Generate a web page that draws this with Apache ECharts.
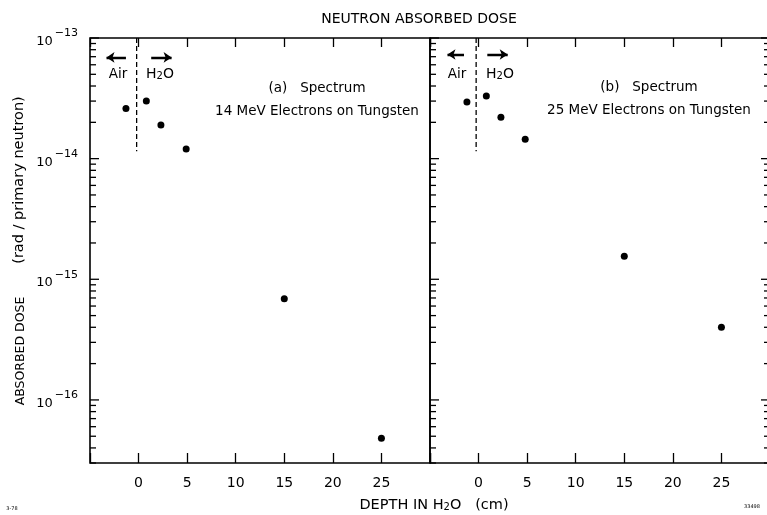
<!DOCTYPE html>
<html><head><meta charset="utf-8">
<script src="https://cdn.jsdelivr.net/npm/echarts@6/dist/echarts.min.js"></script>
<style>html,body{margin:0;padding:0;background:#fff}#c{width:767px;height:515px}</style>
</head><body><div id="c"></div>
<script>
// ---- data ----
const depthA = [-1.3, 0.8, 2.3, 4.9, 15, 25];
const doseA  = [2.6e-14, 3.0e-14, 1.9e-14, 1.2e-14, 6.9e-16, 4.8e-17];
const depthB = [-1.2, 0.8, 2.3, 4.8, 15, 25];
const doseB  = [2.95e-14, 3.3e-14, 2.2e-14, 1.45e-14, 1.55e-15, 4.0e-16];
const xTickLabels = ['0', '5', '10', '15', '20', '25'];
const xRange = [-5, 30];
const yRange = [3e-17, 1e-13];
const yMajorExponents = [-16, -15, -14, -13];
const minorMantissas = [2, 3, 4, 5, 6, 7, 8, 9];
const minorDecades = [-17, -16, -15, -14];
const boundaryDepthA = -0.2, boundaryDepthB = -0.25;
const boundaryDose = [1e-13, 1.15e-14];
const arrowDoseA = 6.9e-14, arrowDoseB = 7.3e-14;
const arrowsA = [[-1.3, -3.3], [1.3, 3.4]];
const arrowsB = [[-1.5, -3.2], [0.9, 3.0]];

const F = '"DejaVu Sans", sans-serif';

// tick list for the log axes (value, major flag)
const yTicks = [];
yMajorExponents.forEach(e => yTicks.push([Math.pow(10, e), 1]));
minorDecades.forEach(d => minorMantissas.forEach(m => {
  const v = m * Math.pow(10, d);
  if (v >= yRange[0] && v <= yRange[1]) yTicks.push([v, 0]);
}));

function tickSeries(xi, yi, side) {
  return {
    type: 'custom', xAxisIndex: xi, yAxisIndex: yi, silent: true, clip: false,
    data: yTicks.map(t => [side === 'left' ? xRange[0] : xRange[1], t[0], t[1]]),
    encode: { x: 0, y: 1 },
    renderItem: function (params, api) {
      const p = api.coord([api.value(0), api.value(1)]);
      const len = api.value(2) ? 9 : 6;
      const x2 = side === 'left' ? p[0] + len : p[0] - len;
      return { type: 'line', shape: { x1: p[0], y1: p[1], x2: x2, y2: p[1] },
               style: { stroke: '#000', lineWidth: 1.3 } };
    }
  };
}

function xAxisBottom(gi) {
  return {
    type: 'value', gridIndex: gi, min: xRange[0], max: xRange[1], interval: 5,
    position: 'bottom',
    axisLine: { show: false }, splitLine: { show: false },
    axisTick: { show: true, inside: true, length: 10, lineStyle: { color: '#000', width: 1.3 } },
    axisLabel: {
      show: true, margin: 13, color: '#000', fontFamily: F, fontSize: 14,
      formatter: v => xTickLabels.indexOf(String(v)) >= 0 ? String(v) : ''
    }
  };
}
function xAxisTop(gi) {
  return {
    type: 'value', gridIndex: gi, min: xRange[0], max: xRange[1], interval: 5,
    position: 'top',
    axisLine: { show: false }, splitLine: { show: false },
    axisTick: { show: true, inside: true, length: 9, lineStyle: { color: '#000', width: 1.3 } },
    axisLabel: { show: false }
  };
}
function yAxis(gi, labels) {
  return {
    type: 'log', logBase: 10, gridIndex: gi, min: yRange[0], max: yRange[1],
    axisLine: { show: false }, axisTick: { show: false }, splitLine: { show: false },
    minorTick: { show: false },
    axisLabel: {
      show: labels, margin: 12, color: '#000', fontFamily: F,
      formatter: function (v) {
        const e = Math.log10(v);
        if (Math.abs(e - Math.round(e)) > 1e-6) return '';
        return '{b|10}{s|\u2212' + Math.abs(Math.round(e)) + '}';
      },
      rich: {
        b: { fontSize: 13, fontFamily: F, color: '#000', verticalAlign: 'bottom', lineHeight: 20 },
        s: { fontSize: 11, fontFamily: F, color: '#000', verticalAlign: 'top', lineHeight: 12, padding: [0, 0, 0, 2] }
      }
    }
  };
}

const chart = echarts.init(document.getElementById('c'), null, { renderer: 'canvas' });
const txt = (x, y, text, size, extra) => ({
  type: 'text', x: x, y: y, silent: true,
  style: Object.assign({ text: text, fontFamily: F, fontSize: size, fill: '#000', align: 'center', verticalAlign: 'middle' }, extra || {})
});
const subRich = { s: { fontSize: 10, fontFamily: F, fill: '#000', verticalAlign: 'bottom', lineHeight: 10, padding: [6, 0, 0, 0] } };
const gridBase = { top: 38, width: 340, height: 425, show: true, borderColor: '#000', borderWidth: 1.6,
  backgroundColor: 'transparent', containLabel: false, outerBoundsMode: 'none' };

chart.setOption({
  animation: false,
  backgroundColor: '#fff',
  textStyle: { fontFamily: F, color: '#000' },
  grid: [
    Object.assign({ left: 90 }, gridBase),
    Object.assign({ left: 430 }, gridBase)
  ],
  xAxis: [xAxisBottom(0), xAxisTop(0), xAxisBottom(1), xAxisTop(1)],
  yAxis: [yAxis(0, true), yAxis(1, false)],
  series: [
    { type: 'scatter', xAxisIndex: 0, yAxisIndex: 0, symbolSize: 7, itemStyle: { color: '#000', opacity: 1 },
      data: depthA.map((d, i) => [d, doseA[i]]) },
    { type: 'scatter', xAxisIndex: 2, yAxisIndex: 1, symbolSize: 7, itemStyle: { color: '#000', opacity: 1 },
      data: depthB.map((d, i) => [d, doseB[i]]) },
    { type: 'line', xAxisIndex: 0, yAxisIndex: 0, symbol: 'none', silent: true,
      lineStyle: { color: '#000', width: 1.3, type: [5, 3] },
      data: boundaryDose.map(v => [boundaryDepthA, v]) },
    { type: 'line', xAxisIndex: 2, yAxisIndex: 1, symbol: 'none', silent: true,
      lineStyle: { color: '#000', width: 1.3, type: [5, 3] },
      data: boundaryDose.map(v => [boundaryDepthB, v]) },
    { type: 'lines', coordinateSystem: 'cartesian2d', xAxisIndex: 0, yAxisIndex: 0, silent: true,
      symbol: ['none', 'arrow'], symbolSize: 8,
      lineStyle: { color: '#000', width: 2.4, opacity: 1, curveness: 0 },
      data: arrowsA.map(a => ({ coords: [[a[0], arrowDoseA], [a[1], arrowDoseA]] })) },
    { type: 'lines', coordinateSystem: 'cartesian2d', xAxisIndex: 2, yAxisIndex: 1, silent: true,
      symbol: ['none', 'arrow'], symbolSize: 8,
      lineStyle: { color: '#000', width: 2.4, opacity: 1, curveness: 0 },
      data: arrowsB.map(a => ({ coords: [[a[0], arrowDoseB], [a[1], arrowDoseB]] })) },
    tickSeries(0, 0, 'left'),
    tickSeries(2, 1, 'left'),
    tickSeries(2, 1, 'right')
  ],
  graphic: [
    txt(419, 19, 'NEUTRON ABSORBED DOSE', 14),
    txt(118, 74, 'Air', 13.5),
    txt(160, 74, 'H{s|2}O', 14, { rich: subRich }),
    txt(457, 74, 'Air', 13.5),
    txt(500, 74, 'H{s|2}O', 14, { rich: subRich }),
    txt(317, 88, '(a)   Spectrum', 13.5),
    txt(317, 111, '14 MeV Electrons on Tungsten', 13.5),
    txt(649, 87, '(b)   Spectrum', 13.5),
    txt(649, 110, '25 MeV Electrons on Tungsten', 13.5),
    Object.assign(txt(21, 351, 'ABSORBED DOSE', 12.5), { rotation: Math.PI / 2 }),
    Object.assign(txt(19, 180, '(rad / primary neutron)', 14.5), { rotation: Math.PI / 2 }),
    txt(434, 505, 'DEPTH IN H{s|2}O   (cm)', 14.5, { rich: subRich }),
    txt(752, 507, '33498', 5),
    txt(12, 509, '3-78', 5)
  ]
});
</script></body></html>
